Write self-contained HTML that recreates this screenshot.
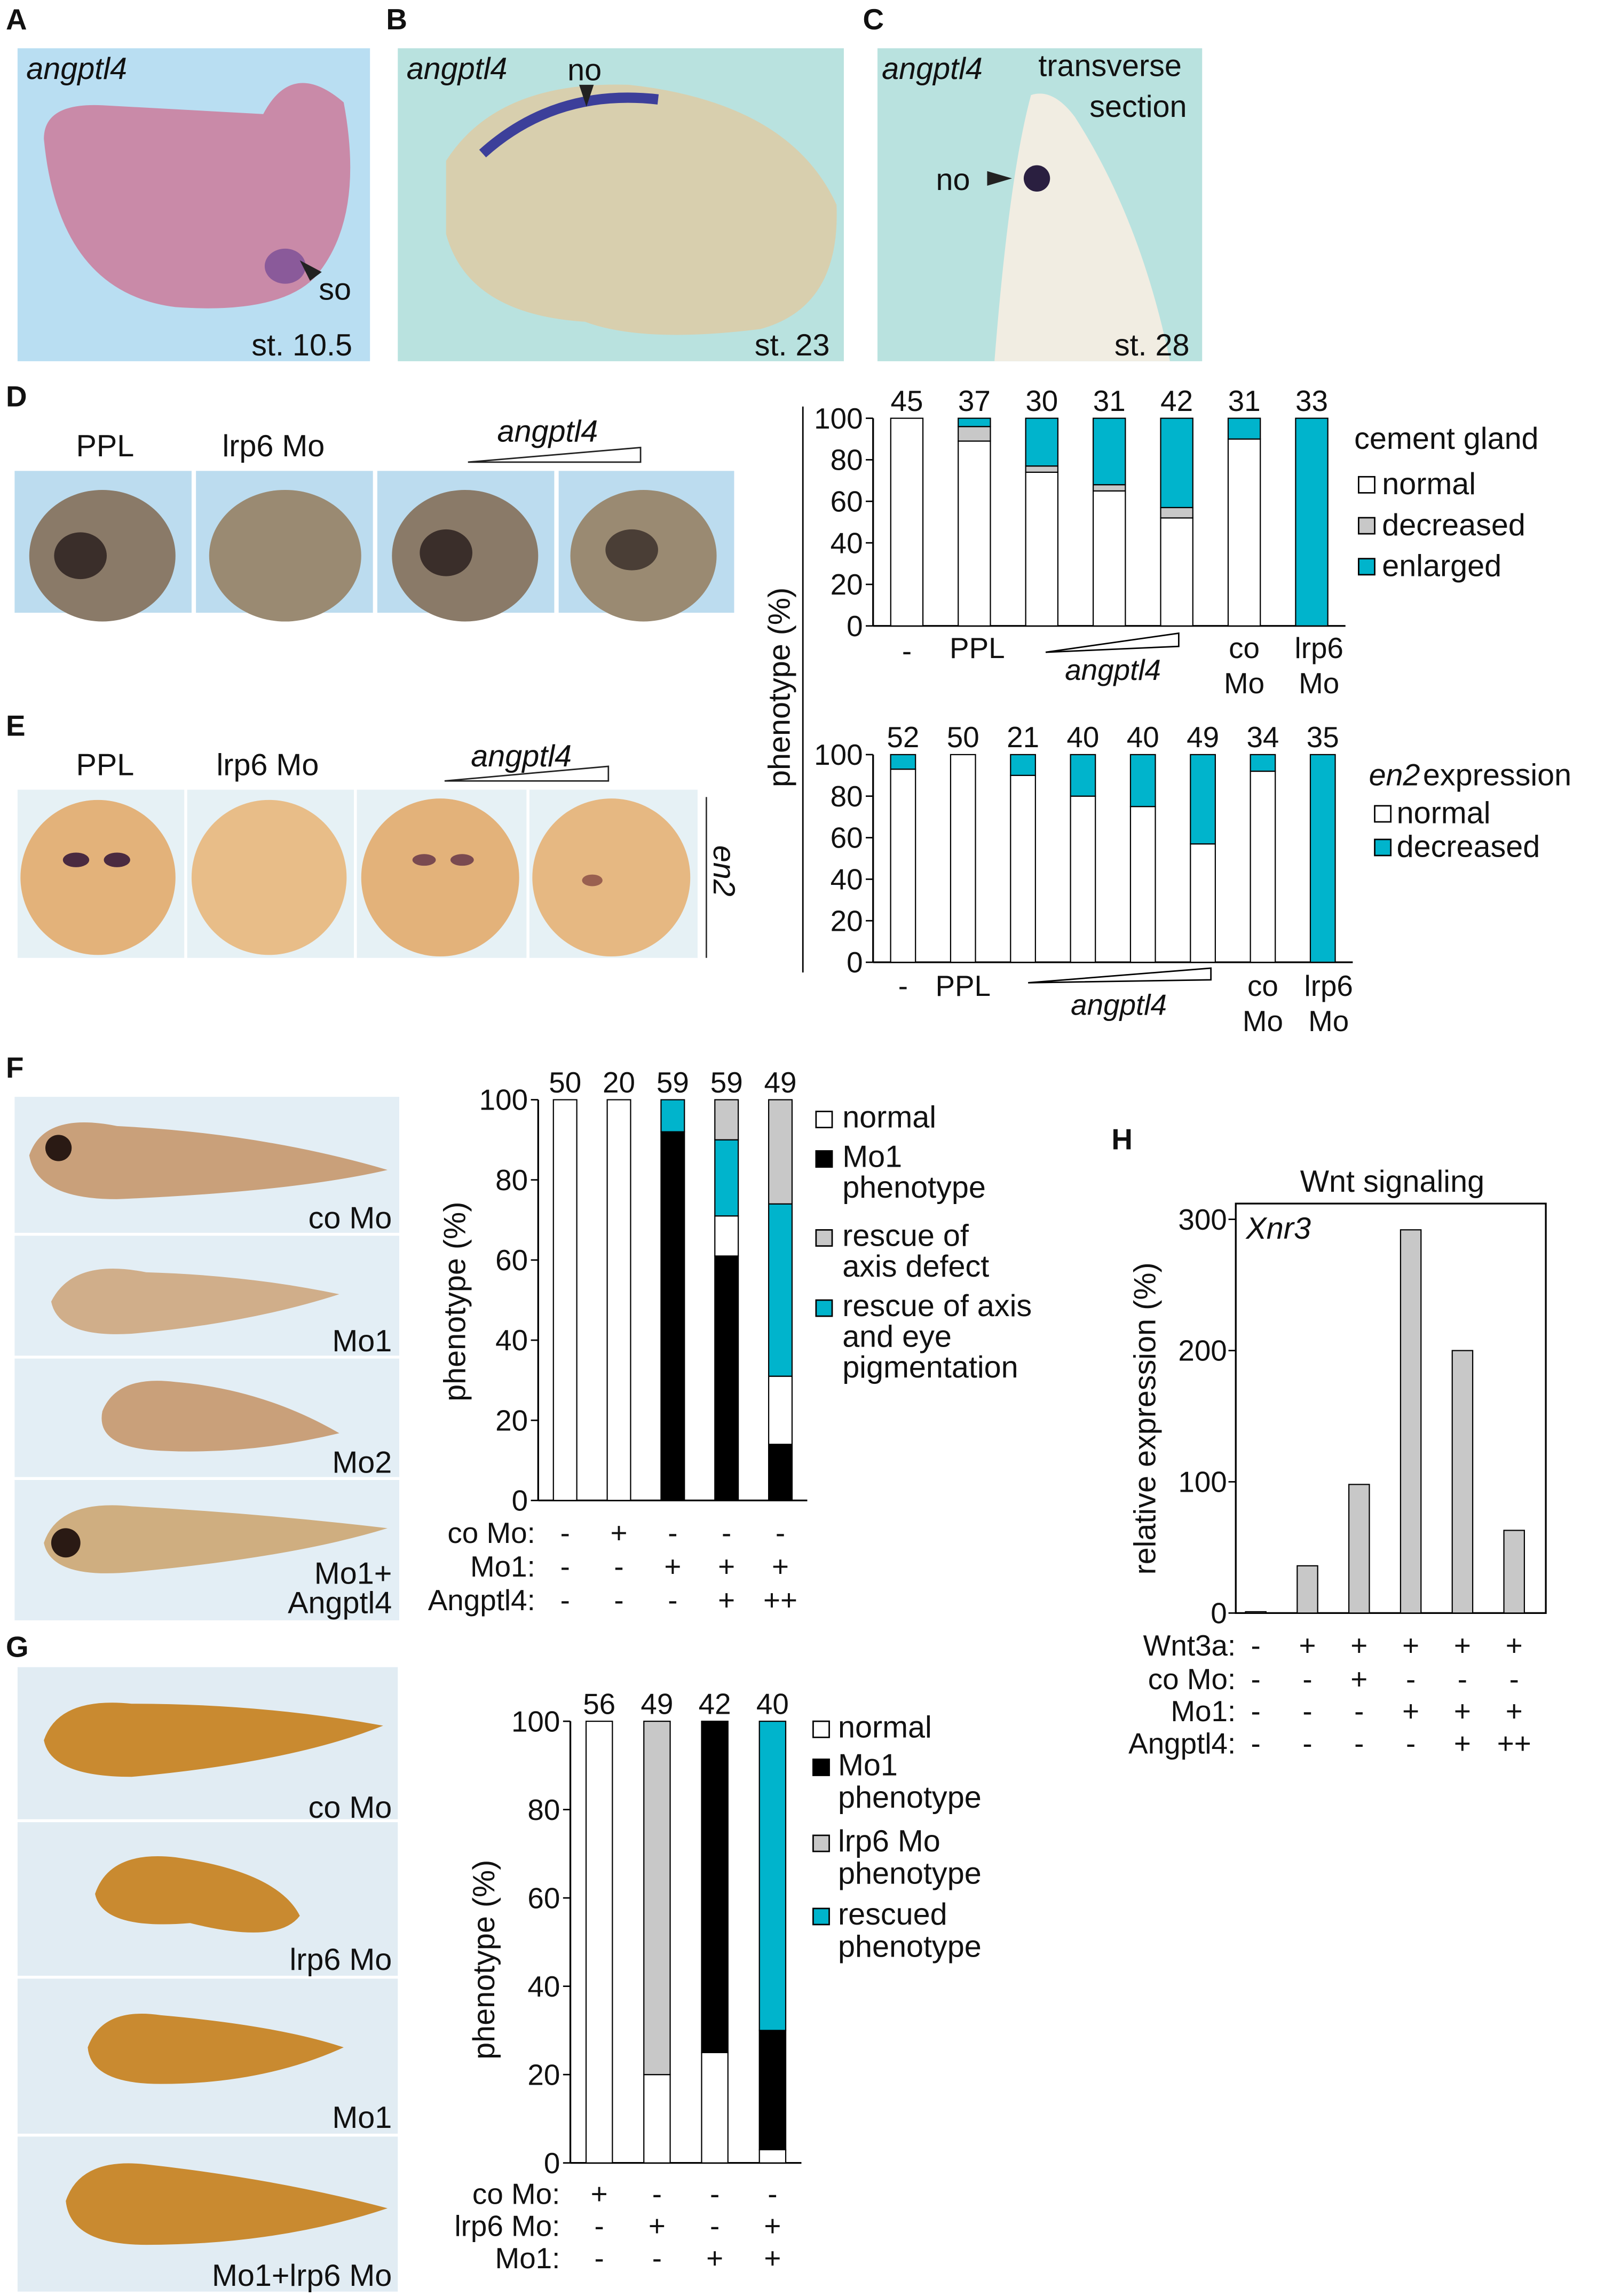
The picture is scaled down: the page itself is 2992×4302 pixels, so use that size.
<!DOCTYPE html>
<html><head><meta charset="utf-8"><style>
html,body{margin:0;padding:0;background:#fff}
svg{display:block}
text{font-family:"Liberation Sans",sans-serif;fill:#111}
</style></head><body>
<svg id="s" xmlns="http://www.w3.org/2000/svg" width="2992" height="4302" viewBox="0 0 1092 1570" preserveAspectRatio="none">
<g id="photos">
<!-- A -->
<rect x="12" y="33" width="241" height="214" fill="#b9def2"/>
<path d="M30 95 Q30 70 70 72 L180 78 Q200 40 235 70 Q250 150 215 190 Q190 215 120 210 Q40 200 30 95Z" fill="#c98aa8"/>
<ellipse cx="195" cy="182" rx="14" ry="12" fill="#8a5a9a"/>
<!-- B -->
<rect x="272" y="33" width="305" height="214" fill="#b9e2df"/>
<path d="M305 110 Q340 55 430 58 Q540 70 572 140 Q575 210 520 225 Q440 235 400 220 Q320 215 305 160Z" fill="#d8cfae"/>
<path d="M330 105 Q380 60 450 68" stroke="#3c3f9a" stroke-width="7" fill="none"/>
<!-- C -->
<rect x="600" y="33" width="222" height="214" fill="#b9e2df"/>
<path d="M680 247 Q690 120 705 65 Q720 60 735 80 Q780 150 800 247Z" fill="#f1ede2"/>
<circle cx="709" cy="122" r="9" fill="#2a1f40"/>
<!-- D -->
<g>
<rect x="10" y="322" width="121" height="97" fill="#bcdcef"/><rect x="134" y="322" width="121" height="97" fill="#bcdcef"/><rect x="258" y="322" width="121" height="97" fill="#bcdcef"/><rect x="382" y="322" width="120" height="97" fill="#bcdcef"/>
<ellipse cx="70" cy="380" rx="50" ry="45" fill="#8a7a68"/><ellipse cx="195" cy="380" rx="52" ry="45" fill="#9a8a72"/><ellipse cx="318" cy="380" rx="50" ry="45" fill="#8a7a68"/><ellipse cx="440" cy="380" rx="50" ry="45" fill="#9a8a72"/>
<ellipse cx="55" cy="380" rx="18" ry="16" fill="#3a2e2a"/><ellipse cx="305" cy="378" rx="18" ry="16" fill="#3a2e2a"/><ellipse cx="432" cy="376" rx="18" ry="14" fill="#4a3e36"/>
</g>
<!-- E -->
<g>
<rect x="12" y="540" width="114" height="115" fill="#e6f1f5"/><rect x="128" y="540" width="114" height="115" fill="#e6f1f5"/><rect x="244" y="540" width="116" height="115" fill="#e6f1f5"/><rect x="362" y="540" width="115" height="115" fill="#e6f1f5"/>
<circle cx="67" cy="600" r="53" fill="#e3b27a"/><circle cx="184" cy="600" r="53" fill="#e8bd88"/><circle cx="301" cy="600" r="54" fill="#e3b27a"/><circle cx="418" cy="600" r="54" fill="#e6b882"/>
<ellipse cx="52" cy="588" rx="9" ry="5" fill="#4a2a40"/><ellipse cx="80" cy="588" rx="9" ry="5" fill="#4a2a40"/><ellipse cx="290" cy="588" rx="8" ry="4" fill="#7a4a50"/><ellipse cx="316" cy="588" rx="8" ry="4" fill="#7a4a50"/><ellipse cx="405" cy="602" rx="7" ry="4" fill="#9a6050"/>
<line x1="483" y1="545" x2="483" y2="655" stroke="#333"/>
</g>
<!-- F -->
<g>
<rect x="10" y="750" width="263" height="93" fill="#e3eef5"/><rect x="10" y="845" width="263" height="82" fill="#e3eef5"/><rect x="10" y="929" width="263" height="81" fill="#e3eef5"/><rect x="10" y="1012" width="263" height="96" fill="#e3eef5"/>
<path d="M20 790 Q30 760 80 770 Q180 775 265 800 Q200 815 80 820 Q25 820 20 790Z" fill="#c9a07a"/>
<circle cx="40" cy="785" r="9" fill="#2a1a14"/>
<path d="M35 890 Q50 860 100 870 Q170 872 232 885 Q170 905 90 912 Q40 915 35 890Z" fill="#d0ae8a"/>
<path d="M70 965 Q80 940 120 945 Q180 950 232 980 Q170 995 110 992 Q65 990 70 965Z" fill="#c9a07a"/>
<path d="M30 1055 Q40 1025 90 1030 Q180 1035 265 1045 Q200 1065 90 1075 Q35 1080 30 1055Z" fill="#cfae80"/>
<circle cx="45" cy="1055" r="10" fill="#2a1a14"/>
</g>
<!-- G -->
<g>
<rect x="12" y="1140" width="260" height="104" fill="#e1ecf3"/><rect x="12" y="1246" width="260" height="105" fill="#e1ecf3"/><rect x="12" y="1353" width="260" height="106" fill="#e1ecf3"/><rect x="12" y="1461" width="260" height="106" fill="#e1ecf3"/>
<path d="M30 1190 Q40 1160 90 1165 Q180 1165 262 1180 Q200 1205 90 1215 Q35 1215 30 1190Z" fill="#c98a30"/>
<path d="M65 1295 Q75 1265 120 1270 Q190 1280 205 1310 Q190 1330 130 1315 Q70 1320 65 1295Z" fill="#c98a30"/>
<path d="M60 1400 Q70 1372 110 1378 Q190 1385 235 1400 Q180 1425 110 1425 Q62 1425 60 1400Z" fill="#c98a30"/>
<path d="M45 1505 Q55 1475 100 1480 Q190 1490 265 1510 Q190 1535 100 1535 Q48 1535 45 1505Z" fill="#c98a30"/>
</g>
</g>
<g id="ptext" font-size="21">
<text x="4" y="20" font-weight="bold" font-size="20">A</text>
<text x="264" y="20" font-weight="bold" font-size="20">B</text>
<text x="590" y="20" font-weight="bold" font-size="20">C</text>
<text x="4" y="278" font-weight="bold" font-size="20">D</text>
<text x="4" y="503" font-weight="bold" font-size="20">E</text>
<text x="4" y="737" font-weight="bold" font-size="20">F</text>
<text x="4" y="1133" font-weight="bold" font-size="20">G</text>
<text x="760" y="786" font-weight="bold" font-size="20">H</text>
<text x="18" y="54" font-style="italic">angptl4</text>
<text x="218" y="205">so</text><text x="172" y="243">st. 10.5</text>
<text x="278" y="54" font-style="italic">angptl4</text><text x="388" y="55">no</text><text x="516" y="243">st. 23</text>
<text x="603" y="54" font-style="italic">angptl4</text><text x="710" y="52">transverse</text><text x="745" y="80">section</text>
<text x="640" y="130">no</text><text x="762" y="243">st. 28</text>
<text x="52" y="312">PPL</text><text x="152" y="312">lrp6 Mo</text><text x="340" y="302" font-style="italic">angptl4</text>
<text x="52" y="530">PPL</text><text x="148" y="530">lrp6 Mo</text><text x="322" y="524" font-style="italic">angptl4</text>
<text x="488" y="578" font-style="italic" transform="rotate(90 488 578)">en2</text>
<text x="268" y="840" text-anchor="end">co Mo</text><text x="268" y="924" text-anchor="end">Mo1</text><text x="268" y="1007" text-anchor="end">Mo2</text>
<text x="268" y="1083" text-anchor="end">Mo1+</text><text x="268" y="1103" text-anchor="end">Angptl4</text>
<text x="268" y="1243" text-anchor="end">co Mo</text><text x="268" y="1347" text-anchor="end">lrp6 Mo</text><text x="268" y="1455" text-anchor="end">Mo1</text><text x="268" y="1563" text-anchor="end">Mo1+lrp6 Mo</text>
<polygon points="205,178 220,186 212,192" fill="#222"/>
<polygon points="396,58 406,58 401,73" fill="#222"/>
<polygon points="675,117 675,127 692,122" fill="#222"/>
<polygon points="320,316 438,306 438,316" fill="none" stroke="#222"/>
<polygon points="304,534 416,524 416,534" fill="none" stroke="#222"/>
</g>
<g id="charts"></g>
</svg>
<script>
// ---- data ----
const dCounts=[45,37,30,31,42,31,33];
const dNormal=[100,89,74,65,52,90,0];
const dDecreased=[0,7,3,3,5,0,0];
const dEnlarged=[0,4,23,32,43,10,100];
const eCounts=[52,50,21,40,40,49,34,35];
const eNormal=[93,100,90,80,75,57,92,0];
const eDecreased=[7,0,10,20,25,43,8,100];
const fCounts=[50,20,59,59,49];
const fMo1=[0,0,92,61,14];
const fNormal=[100,100,0,10,17];
const fCyan=[0,0,8,19,43];
const fGray=[0,0,0,10,26];
const gCounts=[56,49,42,40];
const gNormal=[100,20,25,3];
const gMo1=[0,0,75,27];
const gGray=[0,80,0,0];
const gCyan=[0,0,0,70];
const hValues=[1,36,98,292,200,63];
const ticks100=[0,20,40,60,80,100];
const ticksH=[0,100,200,300];

const NS="http://www.w3.org/2000/svg";
const root=document.getElementById('charts');
function el(t,a,p){const e=document.createElementNS(NS,t);for(const k in a)e.setAttribute(k,a[k]);(p||root).appendChild(e);return e;}
function txt(x,y,s,fs,anchor,p,extra){const t=el('text',Object.assign({x:x,y:y,'font-size':fs||20,'text-anchor':anchor||'start'},extra||{}),p);t.textContent=s;return t;}
const CY='#00b4cc',GR='#c8c8c8',BK='#000';

function stacked(name,x0,x1,yTop,yBot,n,bw,series,counts){
  const g=el('g',{});
  
  
  const yS=v=>yBot-(yBot-yTop)*v/100;
  const step=(x1-x0)/n;
  const xC=i=>x0+step*(i+0.5);
  el('line',{x1:x0,y1:yTop,x2:x0,y2:yBot,stroke:'#000','stroke-width':1.2},g);
  el('line',{x1:x0,y1:yBot,x2:x1,y2:yBot,stroke:'#000','stroke-width':1.2},g);
  ticks100.forEach(t=>{el('line',{x1:x0-5,y1:yS(t),x2:x0,y2:yS(t),stroke:'#000'},g);txt(x0-7,yS(t)+7,String(t),20,'end',g);});
  for(let i=0;i<n;i++){
    let acc=0;
    series.forEach(s=>{const v=s.v[i];if(v>0){const r=el('rect',{x:xC(i)-bw/2,y:yS(acc+v),width:bw,height:yS(acc)-yS(acc+v),fill:s.c,stroke:'#000','stroke-width':0.8},g);}acc+=v;});
    if(acc<1){el('rect',{x:xC(i)-bw/2,y:yTop,width:bw,height:yBot-yTop,fill:'#fff',stroke:'#000','stroke-width':0.8},g);}
    txt(xC(i),yTop-5,String(counts[i]),20,'middle',g);
  }
  return {xC:xC,g:g};
}
// D top
let d=stacked('chart-cement-gland',597,920,286,428,7,22,[{v:dNormal,c:'#fff'},{v:dDecreased,c:GR},{v:dEnlarged,c:CY}],dCounts);
txt(d.xC(0),452,'-',20,'middle');txt(d.xC(1)+2,450,'PPL',20,'middle');
el('polygon',{points:'715,446 806,433 806,442',fill:'none',stroke:'#000'});
txt(761,465,'angptl4',20,'middle',null,{'font-style':'italic'});
txt(d.xC(5),450,'co',20,'middle');txt(d.xC(5),474,'Mo',20,'middle');
txt(d.xC(6)+5,450,'lrp6',20,'middle');txt(d.xC(6)+5,474,'Mo',20,'middle');
txt(926,307,'cement gland',21);
[['normal','#fff',338],['decreased',GR,366],['enlarged',CY,394]].forEach(a=>{el('rect',{x:929,y:a[2]-12,width:11,height:11,fill:a[1],stroke:'#000'});txt(945,a[2],a[0],21);});
// E
let e=stacked('chart-en2',597,925,516,658,8,17,[{v:eNormal,c:'#fff'},{v:eDecreased,c:CY}],eCounts);
txt(e.xC(0),681,'-',20,'middle');txt(e.xC(1),681,'PPL',20,'middle');
el('polygon',{points:'703,672 828,662 828,670',fill:'none',stroke:'#000'});
txt(765,694,'angptl4',20,'middle',null,{'font-style':'italic'});
txt(e.xC(6),681,'co',20,'middle');txt(e.xC(6),705,'Mo',20,'middle');
txt(e.xC(7)+4,681,'lrp6',20,'middle');txt(e.xC(7)+4,705,'Mo',20,'middle');
txt(936,537,'en2',21,'start',null,{'font-style':'italic'});txt(973,537,' expression',21);
[['normal','#fff',563],['decreased',CY,586]].forEach(a=>{el('rect',{x:940,y:a[2]-12,width:11,height:11,fill:a[1],stroke:'#000'});txt(955,a[2],a[0],21);});
txt(540,470,'phenotype (%)',21,'middle',null,{transform:'rotate(-90 540 470)'});
el('line',{x1:549,y1:278,x2:549,y2:665,stroke:'#000'});
// F
let f=stacked('chart-f',368,552,752,1026,5,16,[{v:fMo1,c:BK},{v:fNormal,c:'#fff'},{v:fCyan,c:CY},{v:fGray,c:GR}],fCounts);
txt(318,890,'phenotype (%)',21,'middle',null,{transform:'rotate(-90 318 890)'});
[['co Mo:',['-','+','-','-','-'],1055],['Mo1:',['-','-','+','+','+'],1078],['Angptl4:',['-','-','-','+','++'],1101]].forEach(r=>{txt(366,r[2],r[0],20,'end');r[1].forEach((s,i)=>txt(f.xC(i),r[2],s,20,'middle'));});
[['#fff',771,['normal']],[BK,798,['Mo1','phenotype']],[GR,852,['rescue of','axis defect']],[CY,900,['rescue of axis','and eye','pigmentation']]].forEach(a=>{el('rect',{x:558,y:a[1]-11,width:11,height:11,fill:a[0],stroke:'#000'});a[2].forEach((s,j)=>txt(576,a[1]+j*21,s,21));});
// G
let g=stacked('chart-g',390,548,1177,1479,4,18,[{v:gNormal,c:'#fff'},{v:gMo1,c:BK},{v:gGray,c:GR},{v:gCyan,c:CY}],gCounts);
txt(338,1340,'phenotype (%)',21,'middle',null,{transform:'rotate(-90 338 1340)'});
[['co Mo:',['+','-','-','-'],1507],['lrp6 Mo:',['-','+','-','+'],1529],['Mo1:',['-','-','+','+'],1551]].forEach(r=>{txt(383,r[2],r[0],20,'end');r[1].forEach((s,i)=>txt(g.xC(i),r[2],s,20,'middle'));});
[['#fff',1188,['normal']],[BK,1214,['Mo1','phenotype']],[GR,1266,['lrp6 Mo','phenotype']],[CY,1316,['rescued','phenotype']]].forEach(a=>{el('rect',{x:556,y:a[1]-11,width:11,height:11,fill:a[0],stroke:'#000'});a[2].forEach((s,j)=>txt(573,a[1]+j*22,s,21));});
// H
(function(){
  const x0=845,x1=1057,yTop=823,yBot=1103,max=312;
  const hg=el('g',{});
  
  
  const yS=v=>yBot-(yBot-yTop)*v/max;
  const step=(x1-x0)/hValues.length;const xC=i=>x0+step*(i+0.5)-4;
  el('rect',{x:x0,y:yTop,width:x1-x0,height:yBot-yTop,fill:'none',stroke:'#000','stroke-width':1.2},hg);
  ticksH.forEach(t=>{el('line',{x1:x0-5,y1:yS(t),x2:x0,y2:yS(t),stroke:'#000'},hg);txt(x0-6,yS(t)+7,String(t),20,'end',hg);});
  hValues.forEach((v,i)=>{const r=el('rect',{x:xC(i)-7,y:yS(v),width:14,height:yS(0)-yS(v),fill:GR,stroke:'#000','stroke-width':0.8},hg);});
  txt(952,815,'Wnt signaling',21,'middle');
  txt(852,847,'Xnr3',21,'start',null,{'font-style':'italic'});
  txt(790,970,'relative expression (%)',21,'middle',null,{transform:'rotate(-90 790 970)'});
  [['Wnt3a:',['-','+','+','+','+','+'],1132],['co Mo:',['-','-','+','-','-','-'],1155],['Mo1:',['-','-','-','+','+','+'],1177],['Angptl4:',['-','-','-','-','+','++'],1199]].forEach(r=>{txt(845,r[2],r[0],20,'end');r[1].forEach((s,i)=>txt(xC(i),r[2],s,20,'middle'));});
})();
</script>
</body></html>
